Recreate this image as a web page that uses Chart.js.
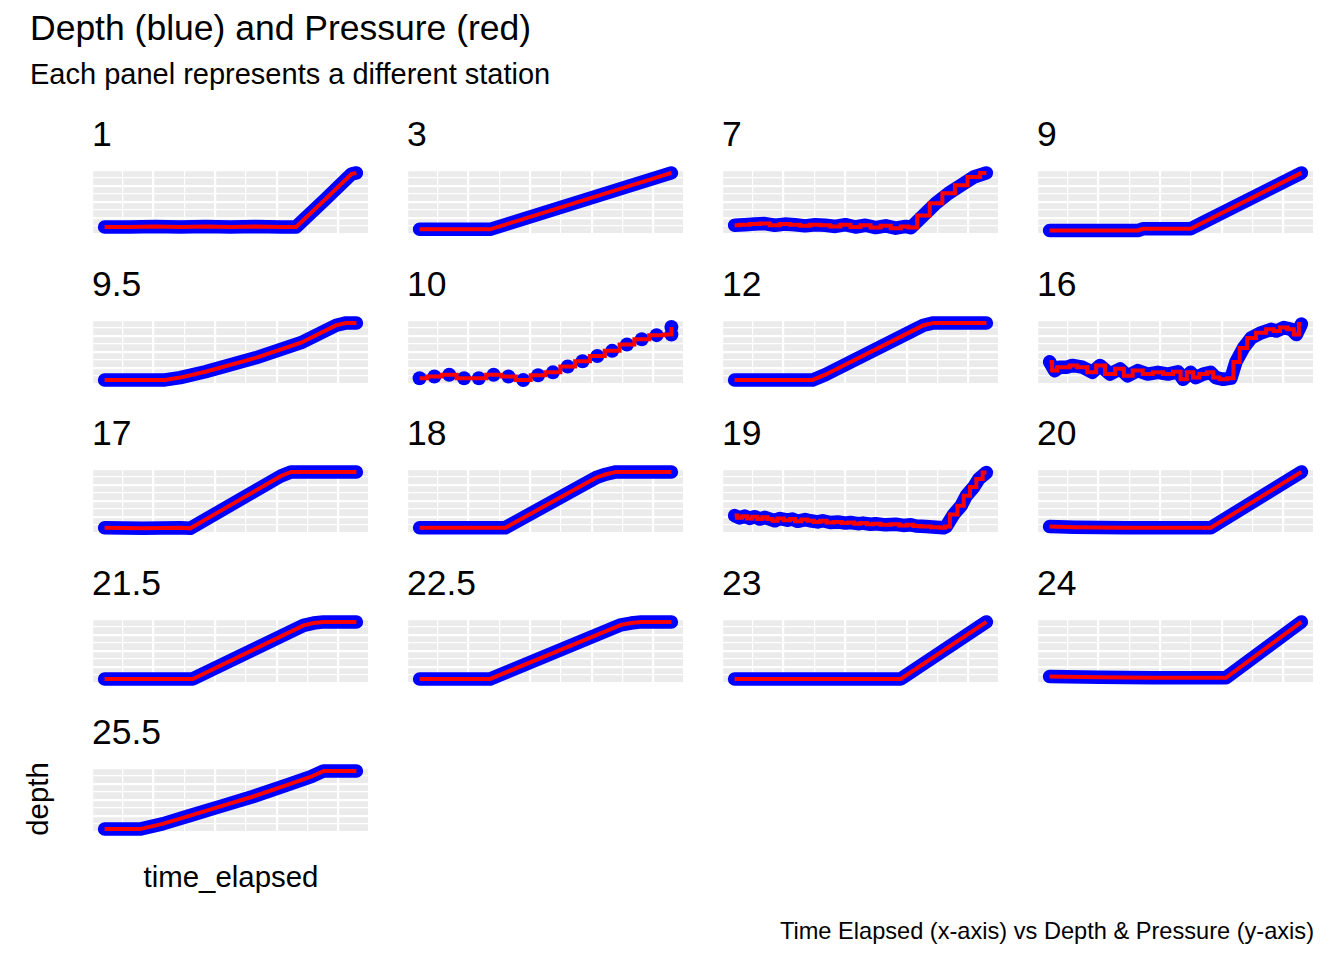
<!DOCTYPE html>
<html>
<head>
<meta charset="utf-8">
<title>Depth and Pressure by station</title>
<script src="https://cdn.jsdelivr.net/npm/chart.js@4.4.1/dist/chart.umd.min.js"></script>
<style>
  body { margin: 0; width: 1344px; height: 960px; position: relative; overflow: hidden;
         background: #fff; color: #000; font-family: "Liberation Sans", Arial, sans-serif; }
  .txt { position: absolute; white-space: nowrap; line-height: 1; }
  .panel { position: absolute; }
</style>
</head>
<body>
<div class="txt" style="left:30px; top:11px; font-size:35.5px;">Depth (blue) and Pressure (red)</div>
<div class="txt" style="left:30px; top:60px; font-size:29px;">Each panel represents a different station</div>
<div class="txt" style="left:231px; top:862px; font-size:29.4px; transform:translateX(-50%);">time_elapsed</div>
<div class="txt" style="left:38px; top:799px; font-size:29.4px; transform:translate(-50%,-50%) rotate(-90deg);">depth</div>
<div class="txt" style="right:30px; top:920px; font-size:23.6px;">Time Elapsed (x-axis) vs Depth &amp; Pressure (y-axis)</div>

<script>
// stations, in panel order (facet_wrap, 4 columns)
const stations = ['1', '3', '7', '9', '9.5', '10', '12', '16', '17', '18', '19', '20', '21.5', '22.5', '23', '24', '25.5'];

// time elapsed (% of cast) and depth (% of station range)
const time_1  = [0, 10, 20, 30, 40, 50, 60, 70, 76, 87, 98, 100];
const depth_1 = [7, 7, 8, 7, 8, 7, 8, 7, 7, 52, 98, 100];

const time_3  = [0, 28, 100];
const depth_3 = [3, 3, 100];

const time_7  = [0, 4, 8, 12, 16, 20, 24, 28, 32, 36, 40, 44, 48, 52, 56, 60, 64, 68, 70, 75, 80, 85, 90, 95, 100];
const depth_7 = [10, 11, 12, 13, 10, 12, 11, 9, 11, 10, 8, 11, 7, 10, 6, 9, 5, 8, 6, 27, 48, 65, 79, 93, 100];

const time_9  = [0, 35, 37, 56, 100];
const depth_9 = [1, 1, 4, 4, 100];

const time_9_5  = [0, 24, 30, 40, 60, 78, 92, 96, 100];
const depth_9_5 = [2, 2, 6, 16, 40, 66, 96, 100, 100];

// station 10 was sampled only every few minutes
const time_10  = [0, 1, 2, 3, 4, 5, 6, 7, 8, 9, 10, 11, 12, 13, 14, 15, 16, 17, 17];
const depth_10 = [5, 8, 11, 5, 5, 11, 8, 2, 10, 15, 25, 34, 43, 52, 63, 72, 79, 80, 93];

const time_12  = [0, 31, 36, 70, 75, 79, 100];
const depth_12 = [2, 2, 11, 85, 96, 100, 100];

const time_16  = [0, 2, 4, 7, 9, 13, 17, 20, 24, 28, 31, 35, 39, 43, 47, 51, 53, 56, 58, 61, 64, 66, 69, 72, 74, 77, 80, 84, 88, 90, 93, 96, 98, 100];
const depth_16 = [33, 18, 24, 24, 27, 24, 15, 27, 12, 21, 9, 18, 12, 15, 12, 16, 3, 15, 6, 12, 15, 6, 3, 5, 33, 57, 74, 83, 89, 86, 92, 89, 80, 98];

const time_17  = [0, 15, 30, 34, 40, 70, 74, 100];
const depth_17 = [4, 3, 4, 3, 18, 93, 100, 100];

const time_18  = [0, 34, 70, 74, 78, 100];
const depth_18 = [4, 4, 90, 96, 100, 100];

const time_19  = [0, 2, 4, 6, 8, 10, 12, 14, 16, 18, 21, 23, 25, 28, 30, 33, 35, 38, 41, 44, 46, 49, 51, 54, 56, 60, 64, 67, 70, 72, 76, 80, 83, 84, 87, 90, 92, 95, 97, 100];
const depth_19 = [25, 21, 24, 20, 23, 19, 22, 19, 16, 20, 17, 19, 15, 18, 16, 14, 16, 13, 14, 12, 13, 11, 12, 10, 11, 9, 10, 8, 9, 7, 6, 5, 4, 6, 27, 42, 59, 74, 88, 99];

const time_20  = [0, 10, 30, 64, 100];
const depth_20 = [6, 5, 4, 4, 100];

const time_21_5  = [0, 35, 79, 83, 87, 100];
const depth_21_5 = [2, 2, 94, 98, 100, 100];

const time_22_5  = [0, 28, 80, 84, 88, 100];
const depth_22_5 = [2, 2, 95, 98, 100, 100];

const time_23  = [0, 66, 100];
const depth_23 = [2, 2, 100];

const time_24  = [0, 20, 40, 70, 100];
const depth_24 = [6, 5, 4, 4, 100];

const time_25_5  = [0, 14, 23, 33, 46, 59, 72, 82, 87, 100];
const depth_25_5 = [0, 0, 9, 22, 39, 56, 75, 90, 100, 100];

const depthRange = [0, 100];

// pressure (red) tracks depth exactly at this scale, so both traces use the same readings
const series = {
    '1': [time_1, depth_1], '3': [time_3, depth_3], '7': [time_7, depth_7], '9': [time_9, depth_9],
    '9.5': [time_9_5, depth_9_5], '10': [time_10, depth_10], '12': [time_12, depth_12], '16': [time_16, depth_16],
    '17': [time_17, depth_17], '18': [time_18, depth_18], '19': [time_19, depth_19], '20': [time_20, depth_20],
    '21.5': [time_21_5, depth_21_5], '22.5': [time_22_5, depth_22_5], '23': [time_23, depth_23], '24': [time_24, depth_24],
    '25.5': [time_25_5, depth_25_5]
};
const steppedStations = ['7', '10', '16', '19'];
const pointStations = ['10'];

// facet layout
const colLeft = [92, 407, 722, 1037];
const rowTop = [170, 319.5, 469, 618.5, 768];
const panelW = 277, panelH = 64, pad = 10;

const panelBg = {
    id: 'panelBg',
    beforeDraw(chart) {
        const a = chart.chartArea, ctx = chart.ctx;
        ctx.save();
        ctx.fillStyle = '#EBEBEB';
        ctx.fillRect(a.left, a.top, a.right - a.left, a.bottom - a.top);
        ctx.restore();
    }
};

stations.forEach(function(st, i) {
    const left = colLeft[i % 4], top = rowTop[Math.floor(i / 4)];

    const strip = document.createElement('div');
    strip.className = 'txt';
    strip.style.cssText = 'left:' + left + 'px; top:' + (top - 53) + 'px; font-size:35.5px;';
    strip.textContent = st;
    document.body.appendChild(strip);

    const box = document.createElement('div');
    box.className = 'panel';
    box.style.cssText = 'left:' + (left - pad) + 'px; top:' + (top - pad) + 'px; width:' + (panelW + 2 * pad) + 'px; height:' + (panelH + 2 * pad) + 'px;';
    const canvas = document.createElement('canvas');
    canvas.width = panelW + 2 * pad;
    canvas.height = panelH + 2 * pad;
    box.appendChild(canvas);
    document.body.appendChild(box);

    const t = series[st][0], d = series[st][1];
    const pts = t.map((x, k) => ({ x: x, y: d[k] }));
    const tMin = Math.min(...t), tMax = Math.max(...t);
    const tPad = 0.05 * (tMax - tMin), dPad = 0.05 * (depthRange[1] - depthRange[0]);
    const asPoints = pointStations.includes(st);

    const gridOpts = {
        color: '#FFFFFF',
        lineWidth: c => (c.index % 2 ? 1.2 : 2.2),
        drawTicks: false
    };

    new Chart(canvas, {
        type: 'line',
        data: {
            datasets: [{
                label: 'Pressure',
                data: pts,
                borderColor: '#FF0000',
                borderWidth: 4,
                pointRadius: 0,
                stepped: steppedStations.includes(st) ? 'middle' : false,
                tension: 0,
                clip: false
            }, {
                label: 'Depth',
                data: pts,
                borderColor: '#0000FF',
                backgroundColor: '#0000FF',
                borderWidth: 13.5,
                borderCapStyle: 'round',
                borderJoinStyle: 'round',
                showLine: !asPoints,
                pointRadius: asPoints ? 7 : 0,
                pointBorderWidth: 0,
                pointBackgroundColor: '#0000FF',
                tension: 0,
                clip: false
            }]
        },
        options: {
            responsive: false,
            animation: false,
            layout: { padding: pad },
            plugins: { legend: { display: false }, tooltip: { enabled: false } },
            scales: {
                x: {
                    type: 'linear',
                    min: tMin - tPad,
                    max: tMax + tPad,
                    ticks: { display: false, count: 10 },
                    grid: gridOpts,
                    border: { display: false }
                },
                y: {
                    min: depthRange[0] - dPad,
                    max: depthRange[1] + dPad,
                    ticks: { display: false, count: 9 },
                    grid: gridOpts,
                    border: { display: false }
                }
            }
        },
        plugins: [panelBg]
    });
});
</script>
</body>
</html>
